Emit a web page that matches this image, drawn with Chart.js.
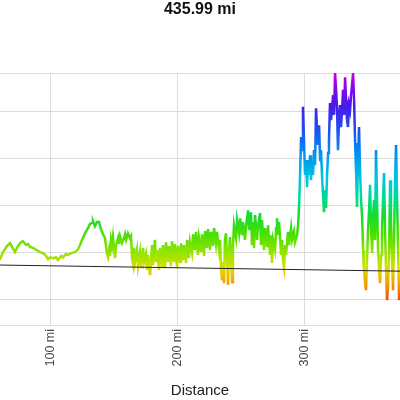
<!DOCTYPE html>
<html>
<head>
<meta charset="utf-8">
<script src="https://cdn.jsdelivr.net/npm/chart.js@4"></script>
<style>
  html, body { margin: 0; padding: 0; background: #fff; }
  #wrap { width: 400px; height: 400px; }
</style>
</head>
<body>
<div id="wrap"><canvas id="profile"></canvas></div>
<script>
// route profile, visible stretch only (mi, ft)
const routeTitle = '435.99 mi';
const distMi = [
  56.1, 60.0, 62.4, 65.5, 67.9, 69.5, 71.8, 74.2, 76.6, 78.1,
  80.5, 82.1, 83.7, 86.0, 89.2, 91.5, 93.9, 96.3, 97.9, 99.4,
  101.8, 104.2, 105.7, 108.1, 109.7, 112.0, 113.6, 116.0, 119.1, 121.5,
  123.1, 124.7, 127.0, 129.4, 131.0, 132.6, 133.3, 134.9, 136.5, 138.1,
  139.6, 141.2, 142.8, 143.6, 144.4, 145.2, 146.0, 146.7, 147.5, 148.3,
  149.1, 150.7, 151.5, 153.1, 153.8, 154.6, 156.2, 157.8, 158.6, 159.4,
  160.9, 162.5, 163.3, 164.1, 164.9, 165.7, 166.5, 168.0, 168.8, 170.4,
  171.2, 172.8, 173.6, 175.1, 175.9, 176.7, 178.3, 179.1, 179.9, 180.7,
  182.2, 183.0, 183.8, 185.4, 186.2, 187.8, 188.5, 190.1, 190.9, 192.5,
  193.3, 194.8, 195.6, 197.2, 198.0, 199.6, 200.4, 202.0, 202.7, 204.3,
  205.1, 206.7, 207.5, 209.0, 209.8, 211.4, 212.2, 213.8, 214.6, 216.1,
  216.9, 218.5, 219.3, 220.9, 221.7, 223.2, 224.0, 225.6, 226.4, 228.0,
  228.8, 230.3, 231.1, 232.7, 233.5, 234.3, 235.1, 235.9, 236.6, 237.4,
  238.2, 239.0, 239.8, 240.6, 241.4, 243.0, 243.7, 244.5, 246.1, 246.9,
  248.5, 249.3, 250.8, 251.6, 253.2, 254.0, 255.6, 256.4, 257.9, 258.7,
  259.5, 260.3, 261.1, 262.7, 263.5, 265.0, 265.8, 266.6, 268.2, 269.0,
  270.6, 271.3, 272.9, 273.7, 274.5, 275.3, 276.9, 277.7, 278.4, 279.2,
  280.0, 281.6, 282.4, 283.2, 284.0, 284.8, 285.5, 287.1, 287.9, 289.5,
  290.3, 291.8, 292.6, 294.2, 295.0, 295.8, 296.6, 297.4, 298.2, 298.9,
  299.7, 300.5, 301.3, 302.1, 302.9, 303.7, 304.5, 305.2, 306.0, 306.8,
  307.6, 308.4, 309.2, 310.0, 310.8, 311.6, 312.4, 313.1, 313.9, 314.7,
  315.5, 316.3, 317.1, 317.9, 318.7, 319.4, 320.2, 321.0, 321.8, 322.6,
  323.4, 324.2, 325.0, 325.8, 326.5, 327.3, 328.1, 328.9, 329.7, 330.5,
  331.3, 332.1, 332.9, 333.6, 334.4, 335.2, 336.0, 336.8, 337.6, 338.4,
  339.2, 340.0, 340.7, 341.5, 342.3, 343.1, 343.9, 344.7, 345.5, 346.3,
  347.0, 347.8, 348.6, 349.4, 350.2, 351.0, 351.8, 352.6, 353.4, 354.2,
  354.9, 355.7, 356.5, 357.3, 358.1, 358.9, 359.7, 360.5, 361.2, 362.0,
  362.8, 363.6, 364.4, 365.2, 366.0, 366.8, 367.6, 368.3, 369.1, 369.9,
  370.7, 371.5, 372.3, 373.1, 373.9, 374.7, 376.2, 378.6
];
const elevFt = [
  2790, 2850, 3000, 3130, 3190, 3110, 3000, 3130, 3210, 3230,
  3150, 3170, 3110, 3090, 3040, 3000, 2980, 2920, 2850, 2890,
  2870, 2890, 2830, 2920, 2890, 2960, 2940, 2980, 3000, 3060,
  3150, 3260, 3400, 3510, 3600, 3620, 3660, 3550, 3640, 3640,
  3490, 3380, 3300, 3130, 2960, 2890, 3040, 2920, 3260, 3130,
  3320, 2870, 3150, 3300, 3170, 3340, 3190, 3300, 3380, 3260,
  3400, 3300, 3340, 2870, 2740, 3090, 2790, 3040, 2700, 3000,
  2660, 3090, 2790, 2960, 2620, 2940, 2510, 2830, 3150, 2720,
  3260, 2790, 3040, 2620, 3090, 2700, 3150, 2660, 3210, 2790,
  3130, 2700, 3230, 2790, 3170, 2660, 3130, 2790, 3190, 2830,
  3150, 2770, 3260, 2870, 3210, 2980, 3380, 3040, 3430, 2940,
  3300, 3000, 3380, 2920, 3450, 3090, 3490, 3040, 3430, 3130,
  3510, 3170, 3430, 3040, 3260, 2620, 2400, 2790, 2340, 3260,
  3400, 2870, 2300, 3040, 3320, 2360, 3150, 3570, 3300, 3680,
  3400, 3720, 3360, 3640, 3260, 3550, 3890, 3470, 3850, 3150,
  3640, 3090, 3790, 3260, 3570, 3830, 3150, 3680, 3040, 3510,
  3130, 3570, 2940, 3360, 2770, 3260, 3040, 3510, 3720, 3360,
  3640, 2940, 3260, 2790, 2660, 3150, 2940, 3430, 3150, 3510,
  3260, 3430, 3210, 3360, 3570, 3960, 4640, 5450, 5170, 6090,
  5380, 4640, 4960, 4380, 4960, 4640, 5060, 4530, 4920, 4640,
  5170, 4850, 6060, 5600, 5280, 5700, 4960, 5170, 4640, 4210,
  3850, 4320, 3940, 4640, 5110, 5380, 6170, 5810, 6020, 6340,
  5920, 6810, 6450, 6020, 5170, 5810, 6130, 5660, 6020, 6450,
  5920, 6720, 6230, 5810, 5660, 6130, 6020, 6340, 6550, 6810,
  6230, 5320, 4750, 3960, 4960, 5660, 4750, 4110, 3750, 3040,
  2620, 2360, 2190, 2830, 3470, 3890, 4430, 3470, 2980, 3790,
  4110, 3260, 5170, 4110, 3040, 2620, 2340, 2940, 3470, 4110,
  4680, 3470, 2620, 1980, 2300, 3040, 4530, 3680, 2830, 2190,
  3260, 4530, 5280, 4110, 3040, 1980, 2400, 3680
];

// straight trend line across the whole route
const trendMi = [0, 435.99];
const trendFt = [2750, 2570];

// axis ticks
const xTicksMi = [100, 200, 300];
const yGridFt = [2000, 3000, 4000, 5000, 6000];
const xRange = [60.0, 375.4];
const yRange = [1450, 6810];

// colour by elevation, low = red, high = magenta
const colourStops = [
  [1980, '#f04a00'], [2250, '#f58c00'], [2510, '#e8c400'], [2720, '#cce000'],
  [3000, '#92e400'], [3360, '#4ce000'], [3790, '#14dc30'], [4110, '#00dc8a'],
  [4530, '#00c8dc'], [5060, '#0096f0'], [5600, '#1e50f0'], [6130, '#4a18ec'],
  [6660, '#a600e6'], [6810, '#c800e6']
];

const font = 'Liberation Sans, Arial, sans-serif';

const elevationGradient = (ctx) => {
  const { chart } = ctx;
  const { chartArea, scales } = chart;
  if (!chartArea) return '#5c0';
  const lo = colourStops[0][0];
  const hi = colourStops[colourStops.length - 1][0];
  const y0 = scales.y.getPixelForValue(lo);
  const y1 = scales.y.getPixelForValue(hi);
  const g = chart.ctx.createLinearGradient(0, y0, 0, y1);
  colourStops.forEach(([ft, c]) => g.addColorStop((ft - lo) / (hi - lo), c));
  return g;
};

new Chart(document.getElementById('profile'), {
  type: 'line',
  data: {
    datasets: [
      {
        label: 'Elevation',
        data: distMi.map((d, i) => ({ x: d, y: elevFt[i] })),
        borderColor: elevationGradient,
        borderWidth: 2.5,
        pointRadius: 0,
        tension: 0,
        order: 2
      },
      {
        label: 'Trend',
        data: trendMi.map((d, i) => ({ x: d, y: trendFt[i] })),
        borderColor: '#222',
        borderWidth: 1,
        pointRadius: 0,
        order: 1
      }
    ]
  },
  options: {
    responsive: true,
    maintainAspectRatio: false,
    animation: false,
    layout: { padding: 0 },
    plugins: {
      legend: { display: false },
      tooltip: { enabled: false },
      title: {
        display: true,
        text: routeTitle,
        color: '#111',
        font: { family: font, size: 16, weight: 'bold' },
        padding: { top: 0, bottom: 53.8 }
      }
    },
    scales: {
      x: {
        type: 'linear',
        min: xRange[0],
        max: xRange[1],
        afterBuildTicks: (axis) => { axis.ticks = xTicksMi.map(v => ({ value: v })); },
        afterFit: (axis) => { axis.height = 75; },
        grid: { color: '#dcdcdc', drawTicks: false },
        border: { color: '#dcdcdc' },
        ticks: {
          color: '#444',
          font: { family: font, size: 12.5 },
          maxRotation: 90,
          minRotation: 90,
          padding: 4,
          callback: (v) => v + ' mi'
        },
        title: {
          display: true,
          text: 'Distance',
          color: '#222',
          font: { family: font, size: 15 },
          padding: { top: 0, bottom: 0 }
        }
      },
      y: {
        min: yRange[0],
        max: yRange[1],
        afterBuildTicks: (axis) => {
          axis.ticks = [yRange[0], ...yGridFt, yRange[1]].map(v => ({ value: v }));
        },
        afterFit: (axis) => { axis.width = 0; },
        grid: { color: '#dcdcdc', drawTicks: false },
        border: { display: false },
        ticks: { display: false }
      }
    }
  }
});
</script>
</body>
</html>
